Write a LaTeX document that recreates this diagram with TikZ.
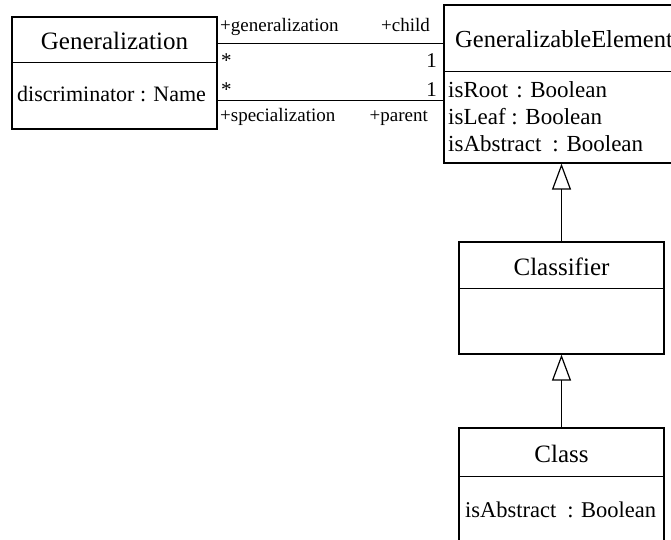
\documentclass[tikz,border=0pt]{standalone}
\usepackage{fontspec}
\setmainfont{Liberation Serif}
\usetikzlibrary{arrows.meta,positioning,calc}

\tikzset{
  umlbox/.style={draw, line width=1.2pt, inner sep=0pt},
  divider/.style={line width=1.2pt},
  assoc/.style={line width=1.2pt},
  classname/.style={font=\fontsize{25}{30}\selectfont, inner sep=0pt},
  attr/.style={font=\fontsize{23}{27}\selectfont, anchor=base west, inner sep=0pt},
  role/.style={font=\fontsize{19}{22}\selectfont, inner sep=0pt},
  mult/.style={font=\fontsize{21}{24}\selectfont, inner sep=0pt},
  inherit/.style={line width=1.2pt, -{Triangle[open, length=26pt, width=19pt]}}
}

\begin{document}
\begin{tikzpicture}[x=1pt,y=-1pt]
  \useasboundingbox (0,0) rectangle (671,540);
  \clip (0,0) rectangle (671,540);

  % Class boxes
  \node[umlbox, minimum width=205pt, minimum height=112pt] (gen) at (114.5,73) {};
  \node[umlbox, minimum width=235pt, minimum height=158pt] (ge) at (561.5,84) {};
  \node[umlbox, minimum width=205pt, minimum height=112pt] (clsf) at (561.5,298) {};
  \node[umlbox, minimum width=205pt, minimum height=130pt] (cls) at (561.5,493) {};

  % Compartment lines
  \draw[divider] ([yshift=-46pt]gen.north west) -- ([yshift=-46pt]gen.north east);
  \draw[divider] ([yshift=-67pt]ge.north west) -- ([yshift=-67pt]ge.north east);
  \draw[divider] ([yshift=-47pt]clsf.north west) -- ([yshift=-47pt]clsf.north east);
  \draw[divider] ([yshift=-49pt]cls.north west) -- ([yshift=-49pt]cls.north east);

  % Names
  \node[classname, anchor=base] (genname) at (114.5,50) {Generalization};
  \node[classname, anchor=base west, font=\fontsize{24.5}{29}\selectfont] (gename) at (455,48) {GeneralizableElement};
  \node[classname, anchor=base] (clsfname) at (561.5,275) {Classifier};
  \node[classname, anchor=base] (clsname) at (561.5,462) {Class};

  % Attributes
  \node[attr, font=\fontsize{22}{26}\selectfont] (disc) at (17,102) {discriminator : Name};
  \node[attr] (isroot) at (448,98) {isRoot\hspace{8pt}: Boolean};
  \node[attr] (isleaf) at (448,125) {isLeaf : Boolean};
  \node[attr] (isabs) at (448,152) {isAbstract\hspace{11pt}: Boolean};
  \node[attr, font=\fontsize{22.5}{26}\selectfont] (clsabs) at (465,517) {isAbstract\hspace{11pt}: Boolean};

  % Associations
  \draw[assoc] ([yshift=-27pt]gen.north east) coordinate (g1) -- (g1 -| ge.west);
  \draw[assoc] ([yshift=29pt]gen.south east) coordinate (g2) -- (g2 -| ge.west);

  % Role names and multiplicities
  \node[role, anchor=base west] (rgen) at (220,32) {+generalization};
  \node[role, anchor=base east] (rchild) at (430,32) {+child};
  \node[mult, anchor=base west] (m1) at (221,68) {*};
  \node[mult, anchor=base east] (m2) at (437,68) {1};
  \node[mult, anchor=base west] (m3) at (221,97) {*};
  \node[mult, anchor=base east] (m4) at (437,97) {1};
  \node[role, anchor=base west] (rspec) at (220,122) {+specialization};
  \node[role, anchor=base east] (rparent) at (428,122) {+parent};

  % Generalizations
  \draw[inherit] (clsf.north) -- (ge.south);
  \draw[inherit] (cls.north) -- (clsf.south);
\end{tikzpicture}
\end{document}
